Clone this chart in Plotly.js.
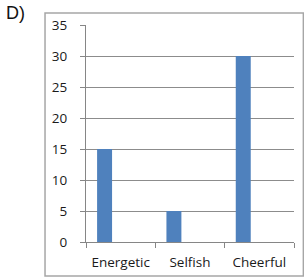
<!DOCTYPE html>
<html>
<head>
<meta charset="utf-8">
<script src="https://cdn.plot.ly/plotly-3.0.1.min.js"></script>
<style>html,body{margin:0;padding:0;background:#fff;}#chart{width:304px;height:278px;}</style>
</head>
<body>
<div id="chart"></div>
<script>
const categories = ["Energetic", "Selfish", "Cheerful"];
const values = [15, 5, 30];
const yTicks = [0, 5, 10, 15, 20, 25, 30, 35];
const panelLabel = "D)";

const trace = {
  type: "bar",
  x: categories,
  y: values,
  width: 0.216,
  offset: -0.34,
  marker: {color: "#4f81bd", line: {width: 0}},
  hoverinfo: "none"
};

const layout = {
  width: 304,
  height: 278,
  margin: {l: 86, r: 10, t: 25, b: 36},
  paper_bgcolor: "#ffffff",
  plot_bgcolor: "#ffffff",
  showlegend: false,
  font: {family: "Open Sans, Liberation Sans, Arial, sans-serif", size: 13.5, color: "#1a1a1a"},
  xaxis: {
    type: "category",
    showline: true,
    linecolor: "#868686",
    linewidth: 1,
    ticks: "outside",
    tickson: "boundaries",
    ticklen: 5,
    tickcolor: "#868686",
    showgrid: false,
    zeroline: false,
    tickangle: 0,
    ticklabelstandoff: 8,
    tickfont: {size: 13.5, color: "#1a1a1a"}
  },
  yaxis: {
    range: [0, 35],
    tickvals: yTicks,
    showline: true,
    linecolor: "#868686",
    linewidth: 1,
    ticks: "outside",
    ticklen: 5,
    tickcolor: "#868686",
    showgrid: true,
    gridcolor: "#8c8c8c",
    gridwidth: 1,
    zeroline: false,
    ticklabelstandoff: 10,
    tickfont: {size: 13.5, color: "#1a1a1a"}
  },
  shapes: [{
    type: "rect",
    xref: "paper", yref: "paper",
    x0: -0.197, x1: 1.045, y0: -0.157, y1: 1.055,
    line: {color: "#a6a6a6", width: 1.5},
    fillcolor: "rgba(0,0,0,0)",
    layer: "below"
  }],
  annotations: [{
    text: panelLabel,
    xref: "paper", yref: "paper",
    x: -0.395, y: 1.11,
    xanchor: "left", yanchor: "top",
    showarrow: false,
    font: {size: 18, color: "#111111", family: "Liberation Sans, Arial, sans-serif"}
  }]
};

Plotly.newPlot("chart", [trace], layout, {staticPlot: true, displayModeBar: false});
</script>
</body>
</html>
